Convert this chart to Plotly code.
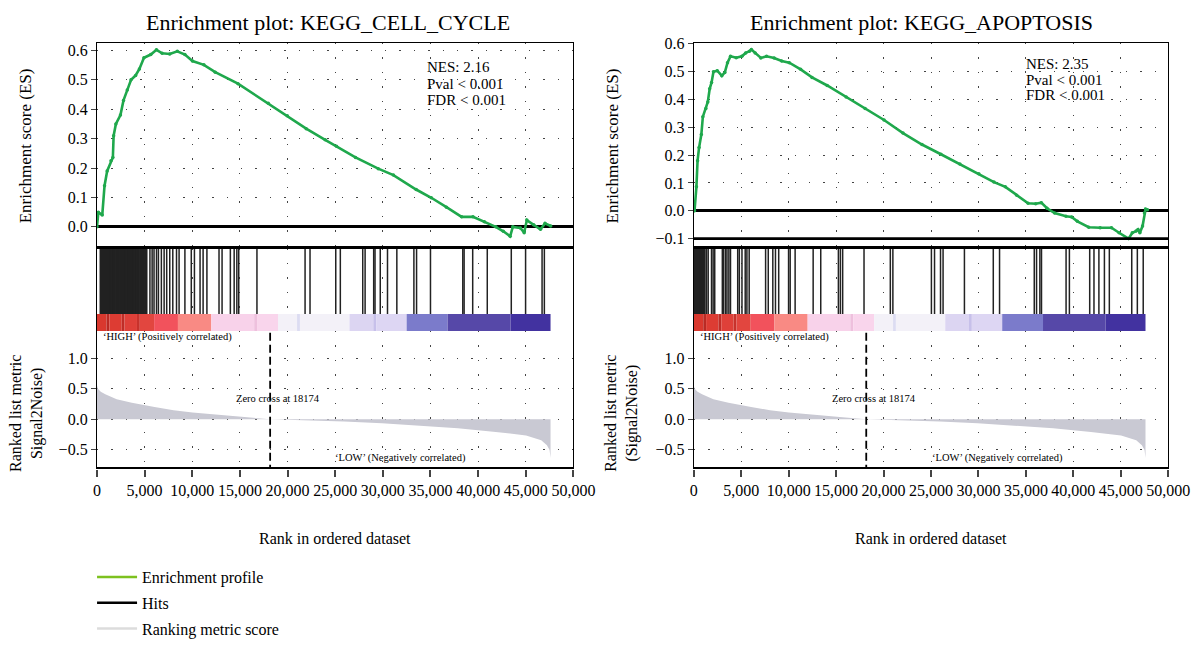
import plotly.graph_objects as go

W, H = 1203, 646
FONT = "Liberation Serif"

# ---------------- data ----------------
RANK_MAX = 50000
x_ticks = list(range(0, 50001, 5000))
zero_cross = 18174

# running enrichment score, KEGG_CELL_CYCLE
es_cell_rank = [0, 150, 557, 796, 1074, 1472, 1671, 1750, 1989, 2466, 2785, 3182, 3580,
                4058, 4455, 4933, 5649, 6245, 6842, 7638, 8433, 9229, 10025, 11218, 12412,
                14798, 17981, 19970, 21959, 23948, 25141, 27130, 29517, 31108, 33495,
                35086, 36677, 38268, 39462, 40655, 41849, 42644, 43360, 43639, 44435,
                44833, 45111, 45827, 46543, 47020, 47617]
es_cell_score = [0.0, 0.05, 0.04, 0.14, 0.19, 0.225, 0.236, 0.31, 0.35, 0.38, 0.43, 0.465,
                 0.50, 0.515, 0.537, 0.575, 0.586, 0.602, 0.59, 0.588, 0.597, 0.586, 0.564,
                 0.551, 0.526, 0.487, 0.42, 0.378, 0.334, 0.296, 0.274, 0.236, 0.198, 0.176,
                 0.127, 0.099, 0.067, 0.034, 0.034, 0.017, 0.0, -0.015, -0.032, 0.0, -0.004,
                 -0.02, 0.023, 0.007, -0.008, 0.012, 0.003]

# running enrichment score, KEGG_APOPTOSIS
es_apop_rank = [0, 80, 280, 400, 559, 799, 959, 1278, 1478, 1677, 1877, 2077, 2476, 2956,
                3275, 3555, 3874, 4473, 5072, 5472, 5871, 6071, 6470, 7069, 7668, 8467,
                9266, 10065, 11263, 12461, 14059, 16056, 18053, 20050, 22047, 24044, 26041,
                28038, 30035, 31632, 32831, 34029, 35227, 36026, 36625, 37224, 38023, 39221,
                39820, 40419, 41617, 42816, 44014, 44813, 45811, 46211, 46610, 46810, 47009,
                47289, 47489, 47609, 47808]
es_apop_score = [0.0, 0.0, 0.086, 0.18, 0.227, 0.274, 0.338, 0.367, 0.391, 0.438, 0.461,
                 0.499, 0.503, 0.485, 0.497, 0.532, 0.555, 0.55, 0.555, 0.567, 0.573, 0.579,
                 0.567, 0.549, 0.555, 0.549, 0.538, 0.532, 0.508, 0.479, 0.45, 0.409, 0.367,
                 0.326, 0.279, 0.238, 0.203, 0.168, 0.133, 0.103, 0.086, 0.056, 0.027, 0.025,
                 0.029, 0.009, -0.008, -0.02, -0.022, -0.038, -0.059, -0.061, -0.061, -0.079,
                 -0.1, -0.079, -0.073, -0.067, -0.079, -0.055, -0.008, 0.006, 0.004]

# positions of gene-set members in the ranked list
hits_cell = [350, 400, 480, 550, 620, 700, 780, 850, 920, 980, 1040, 1100, 1160, 1230, 1300,
             1360, 1420, 1490, 1560, 1640, 1700, 1750, 1820, 1900, 1980, 2050, 2100, 2150,
             2250, 2320, 2400, 2460, 2520, 2600, 2680, 2750, 2820, 2880, 2950, 3000, 3100,
             3180, 3250, 3330, 3400, 3480, 3550, 3650, 3720, 3800, 3850, 3900, 3980, 4050,
             4100, 4150, 4230, 4300, 4350, 4400, 4500, 4580, 4650, 4700, 4750, 4850, 4900,
             4950, 5030, 5100, 5170, 5230, 5560, 5790, 5990, 6250, 6450, 6760, 7050, 7320,
             7640, 7960, 8350, 8620, 9230, 9900, 10230, 10820, 11140, 11540, 12810, 13130,
             14000, 14400, 14680, 14880, 16790, 21840, 22360, 25060, 25540, 27890, 28140,
             29040, 29180, 29730, 30490, 31470, 33260, 33540, 35000, 38390, 38530, 39430,
             40960, 43480, 44980, 46710, 46950]
hits_apop = [50, 100, 150, 200, 250, 290, 330, 380, 420, 460, 500, 550, 600, 640, 680, 720,
             760, 800, 850, 890, 930, 970, 1020, 1060, 1100, 1140, 1170, 1350, 1520, 1870,
             2040, 2210, 3010, 3150, 3350, 3500, 3700, 3870, 4630, 4800, 5080, 5420, 5600,
             5840, 7570, 7850, 8330, 8610, 8950, 9990, 10160, 10680, 12580, 13380, 15240,
             15450, 15690, 17940, 20710, 20980, 25040, 25370, 26000, 26270, 28520, 31560,
             32220, 35880, 36120, 36470, 36640, 39230, 39580, 41720, 42170, 42690, 43270,
             43790, 46150, 46740, 47360]

# ranking metric (Signal2Noise) along the ordered list
metric_rank = [0, 100, 400, 875, 2069, 3660, 6047, 8036, 10025, 12014, 14003, 15992, 17185,
               18174, 21959, 25937, 29915, 33893, 37871, 41849, 45031, 46622, 47219, 47498,
               47600]
metric_value = [0.56, 0.5, 0.45, 0.41, 0.33, 0.27, 0.2, 0.147, 0.11, 0.08, 0.053, 0.03, 0.01,
                0.0, -0.016, -0.037, -0.068, -0.105, -0.15, -0.21, -0.27, -0.35, -0.43,
                -0.51, -0.64]

# heat strip under the hits
cb_edges = [0, 1000, 1300, 2600, 2900, 4200, 4500, 6000, 8500, 12000, 16500, 16800, 19000,
            21000, 21300, 26500, 29000, 29300, 32500, 36800, 43400, 47600]
cb_colors = ['#d9382e', '#b92a24', '#dd3c33', '#bf2d27', '#df4039', '#c7322c', '#e2463f',
             '#f2525c', '#f98a84', '#f8d2ea', '#eec0dd', '#f9d5ec', '#f3f1f8', '#dcdcf2',
             '#f3f1f8', '#dcd5f2', '#c7c0ea', '#ddd6f3', '#7b7bcb', '#5648a8', '#4232a0']

es_ticks_cell = [0.0, 0.1, 0.2, 0.3, 0.4, 0.5, 0.6]
es_ticks_apop = [-0.1, 0.0, 0.1, 0.2, 0.3, 0.4, 0.5, 0.6]
metric_ticks = [-0.5, 0.0, 0.5, 1.0]


# ---------------- layout helpers ----------------
def px(xp):
    return xp / W


def py(yp):
    return 1 - yp / H


ES_TOP, ES_BOT = 37, 254
STRIP_PX = 18
HIT_BOT = 341
RANK_BOT = 485
STRIP_TOP = STRIP_PX / (HIT_BOT - ES_BOT)
METRIC_RANGE = [-0.797, 1.453]

panels = [
    dict(x0=95, x1=582, title="Enrichment plot: KEGG_CELL_CYCLE", title_x=331,
         es_r=es_cell_rank, es_s=es_cell_score, hits=hits_cell, es_range=[-0.074, 0.625],
         es_ticks=es_ticks_cell, stats=["NES: 2.16", "Pval < 0.001", "FDR < 0.001"],
         stats_x=34390, stats_y=[0.542, 0.487, 0.432],
         metric_label="Ranked list metric<br>Signal2Noise)", es_lab_x=22, met_lab_x=23,
         zc_x=19000, low_x=24740, high_x=400, extra_line=None),
    dict(x0=705, x1=1190, title="Enrichment plot: KEGG_APOPTOSIS", title_x=938,
         es_r=es_apop_rank, es_s=es_apop_score, hits=hits_apop, es_range=[-0.136, 0.6024],
         es_ticks=es_ticks_apop, stats=["NES: 2.35", "Pval < 0.001", "FDR < 0.001"],
         stats_x=34820, stats_y=[0.527, 0.468, 0.415],
         metric_label="Ranked list metric<br>(Signal2Noise)", es_lab_x=622, met_lab_x=631,
         zc_x=19000, low_x=24840, high_x=400, extra_line=-0.1),
]

GRID = dict(showgrid=True, gridcolor="#444444", gridwidth=1.4, griddash="1.4px,13px")

fig = go.Figure()
layout = dict(width=W, height=H, margin=dict(l=0, r=0, t=0, b=0),
              paper_bgcolor="white", plot_bgcolor="white", showlegend=True,
              font=dict(family=FONT, color="black", size=16), barmode="overlay")
annotations = []
shapes = []

for i, p in enumerate(panels):
    n = 3 * i
    xa = [f"x{n + k}" if n + k > 1 else "x" for k in (1, 2, 3)]
    ya = [f"y{n + k}" if n + k > 1 else "y" for k in (1, 2, 3)]
    xkeys = ["xaxis" + (a[1:] if a != "x" else "") for a in xa]
    ykeys = ["yaxis" + (a[1:] if a != "y" else "") for a in ya]
    dom_x = [px(p["x0"]), px(p["x1"])]

    # ES panel
    layout[xkeys[0]] = dict(domain=dom_x, anchor=ya[0], range=[0, RANK_MAX], tickvals=x_ticks,
                            side="top", showline=True, linecolor="black", linewidth=1.2,
                            showticklabels=False, ticks="", zeroline=False, **GRID)
    layout[ykeys[0]] = dict(domain=[py(ES_BOT), py(ES_TOP)], anchor=xa[0], range=p["es_range"],
                            tickvals=p["es_ticks"], tickformat=".1f", ticks="outside", ticklen=5,
                            tickwidth=1.2, showline=True, mirror=True, linecolor="black",
                            linewidth=1.2, zeroline=True, zerolinecolor="black",
                            zerolinewidth=2.6, tickfont=dict(size=16), **GRID)
    # hits panel
    layout[xkeys[1]] = dict(domain=dom_x, anchor=ya[1], range=[0, RANK_MAX], tickvals=x_ticks,
                            side="top", showline=True, linecolor="black", linewidth=3,
                            showticklabels=False, ticks="", zeroline=False, **GRID)
    layout[ykeys[1]] = dict(domain=[py(HIT_BOT), py(ES_BOT)], anchor=xa[1], range=[0, 1],
                            showticklabels=False, ticks="", showgrid=False, zeroline=False,
                            showline=True, mirror=True, linecolor="black", linewidth=1.2)
    # ranked metric panel
    layout[xkeys[2]] = dict(domain=dom_x, anchor=ya[2], range=[0, RANK_MAX], tickvals=x_ticks,
                            side="bottom", showline=True, linecolor="black", linewidth=2.4,
                            ticks="outside", ticklen=7, tickwidth=2, tickformat=",",
                            tickfont=dict(size=16), zeroline=False, **GRID)
    layout[ykeys[2]] = dict(domain=[py(RANK_BOT), py(HIT_BOT)], anchor=xa[2],
                            range=METRIC_RANGE, tickvals=metric_ticks, tickformat=".1f",
                            ticks="outside", ticklen=5, tickwidth=1.2, showline=True,
                            mirror=True, linecolor="black", linewidth=1.2, zeroline=False,
                            tickfont=dict(size=16), **GRID)

    # ranking metric area
    fig.add_trace(go.Scatter(x=metric_rank, y=metric_value, mode="lines", fill="tozeroy",
                             line=dict(width=0, color="#c9c9d3"), fillcolor="#c9c9d3",
                             xaxis=xa[2], yaxis=ya[2], showlegend=False, hoverinfo="skip"))
    # zero-cross marker
    fig.add_trace(go.Scatter(x=[zero_cross, zero_cross],
                             y=[METRIC_RANGE[1] - 0.03, METRIC_RANGE[0]],
                             mode="lines", line=dict(color="black", width=1.8, dash="8px,4px"),
                             xaxis=xa[2], yaxis=ya[2], showlegend=False, hoverinfo="skip"))

    # heat strip
    mids = [(a + b) / 2 for a, b in zip(cb_edges[:-1], cb_edges[1:])]
    widths = [b - a for a, b in zip(cb_edges[:-1], cb_edges[1:])]
    fig.add_trace(go.Bar(x=mids, y=[STRIP_TOP] * len(mids), width=widths, base=0,
                         marker=dict(color=cb_colors, line=dict(width=0)),
                         xaxis=xa[1], yaxis=ya[1], showlegend=False, hoverinfo="skip"))
    # hit lines
    hx, hy = [], []
    for r in p["hits"]:
        hx += [r, r, None]
        hy += [STRIP_TOP, 1, None]
    fig.add_trace(go.Scatter(x=hx, y=hy, mode="lines", line=dict(color="#222222", width=1.5),
                             xaxis=xa[1], yaxis=ya[1], showlegend=False, hoverinfo="skip"))

    # running ES
    fig.add_trace(go.Scatter(x=p["es_r"], y=p["es_s"], mode="lines+markers",
                             line=dict(color="#1fa84c", width=2.6),
                             marker=dict(size=3.5, color="#1fa84c"),
                             xaxis=xa[0], yaxis=ya[0], showlegend=False, hoverinfo="skip"))
    if p["extra_line"] is not None:
        shapes.append(dict(type="line", xref=f"{xa[0]} domain", yref=ya[0], x0=0, x1=1,
                           y0=p["extra_line"], y1=p["extra_line"],
                           line=dict(color="black", width=2.6)))

    cx = (p["x0"] + p["x1"]) / 2
    annotations += [
        dict(text=p["title"], x=px(p["title_x"]), y=py(15), xref="paper", yref="paper",
             showarrow=False, font=dict(size=22), xanchor="center", yanchor="middle"),
        dict(text="Enrichment score (ES)", x=px(p["es_lab_x"]), y=py((ES_TOP + ES_BOT) / 2),
             xref="paper", yref="paper", textangle=-90, showarrow=False,
             font=dict(size=17), xanchor="center", yanchor="middle"),
        dict(text=p["metric_label"], x=px(p["met_lab_x"]), y=py(428), xref="paper",
             yref="paper", textangle=-90, showarrow=False, font=dict(size=16),
             xanchor="center", yanchor="middle"),
        dict(text="\u2018HIGH\u2019 (Positively correlated)", x=p["high_x"], xref=xa[2],
             y=1.35, yref=ya[2], showarrow=False, xanchor="left", yanchor="middle",
             font=dict(size=10.5)),
        dict(text=f"Zero cross at {zero_cross}", x=p["zc_x"], xref=xa[2], y=0.34,
             yref=ya[2], showarrow=False, xanchor="center", yanchor="middle",
             font=dict(size=10.5)),
        dict(text="\u2018LOW\u2019 (Negatively correlated)", x=p["low_x"], xref=xa[2],
             y=-0.64, yref=ya[2], showarrow=False, xanchor="left", yanchor="middle",
             font=dict(size=10.5)),
        dict(text="Rank in ordered dataset", x=px(cx), y=py(560), xref="paper", yref="paper",
             showarrow=False, font=dict(size=16), xanchor="center", yanchor="middle"),
    ]
    for line_txt, yv in zip(p["stats"], p["stats_y"]):
        annotations.append(dict(text=line_txt, x=p["stats_x"], xref=xa[0], y=yv, yref=ya[0],
                                showarrow=False, xanchor="left", yanchor="middle",
                                font=dict(size=15)))

# legend entries
legend_items = [("Enrichment profile", "#7dc11f"), ("Hits", "#000000"),
                ("Ranking metric score", "#dcdcdc")]
for k, (name, col) in enumerate(legend_items):
    fig.add_trace(go.Scatter(x=[None], y=[None], mode="lines", name=name,
                             line=dict(color=col, width=2.5), legendgroup=f"g{k}",
                             xaxis="x", yaxis="y"))

layout["legend"] = dict(x=px(90), y=py(583), xanchor="left", yanchor="top",
                        font=dict(size=16, family=FONT), tracegroupgap=2,
                        bgcolor="rgba(0,0,0,0)", itemwidth=40)
layout["annotations"] = annotations
layout["shapes"] = shapes
fig.update_layout(**layout)

fig.write_html("out.html")
